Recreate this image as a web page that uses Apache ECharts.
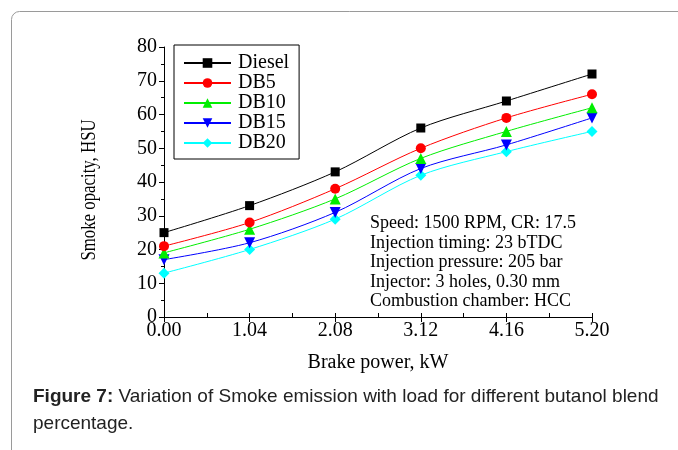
<!DOCTYPE html>
<html><head><meta charset="utf-8">
<script src="https://cdn.jsdelivr.net/npm/echarts@6/dist/echarts.min.js"></script>
<style>html,body{margin:0;padding:0;background:#fff}#c{width:678px;height:450px}</style>
</head><body><div id="c"></div>
<script>
var xValues = [0.00, 1.04, 2.08, 3.12, 4.16, 5.20];
var seriesNames = ['Diesel', 'DB5', 'DB10', 'DB15', 'DB20'];
var diesel = [25, 33, 43, 56, 64, 72];
var db5 = [21, 28, 38, 50, 59, 66];
var db10 = [19, 26, 35, 47, 55, 62];
var db15 = [17, 22, 31, 44, 51, 59];
var db20 = [13, 20, 29, 42, 49, 55];
var notes = ['Speed: 1500 RPM, CR: 17.5', 'Injection timing: 23 bTDC', 'Injection pressure: 205 bar', 'Injector: 3 holes, 0.30 mm', 'Combustion chamber: HCC'];
var yAxisTitle = 'Smoke opacity, HSU';

var serif = 'Liberation Serif, Times New Roman, serif';
var colors = ['#000000', '#ff0000', '#00ee00', '#0000ff', '#00ffff'];
var symbols = ['rect', 'circle', 'triangle', 'triangle', 'diamond'];
var rots = [0, 0, 0, 180, 0];
var sizes = [9, 10, 11, 11, 11];
var allData = [diesel, db5, db10, db15, db20];

function pairs(arr) { return arr.map(function (v, i) { return [xValues[i], v]; }); }

var series = seriesNames.map(function (n, k) {
  return {
    name: n, type: 'line', xAxisIndex: 0, yAxisIndex: 0,
    data: pairs(allData[k]), smooth: 0.3,
    symbol: symbols[k], symbolRotate: rots[k], symbolSize: sizes[k], showSymbol: true,
    lineStyle: { color: colors[k], width: 1 },
    itemStyle: { color: colors[k] },
    emphasis: { disabled: true }, animation: false, z: 10 - k
  };
});

var chart = echarts.init(document.getElementById('c'));
chart.setOption({
  animation: false,
  grid: { left: 164, right: 86, top: 47, bottom: 133, containLabel: false },
  legend: {
    orient: 'vertical', left: 174, top: 45, data: seriesNames,
    borderColor: '#000', borderWidth: 1, padding: [8, 10, 6, 9],
    itemWidth: 47, itemHeight: 12, itemGap: 0,
    textStyle: { fontFamily: serif, fontSize: 20, color: '#000', padding: [0, 0, 0, 2] }
  },
  xAxis: [{
    type: 'value', min: 0, max: 5.2, interval: 1.04,
    name: 'Brake power, kW', nameLocation: 'middle', nameGap: 36,
    nameTextStyle: { fontFamily: serif, fontSize: 20, color: '#000' },
    axisLine: { show: true, onZero: false, lineStyle: { color: '#000', width: 1 } },
    axisTick: { show: true, inside: false, length: 5, lineStyle: { color: '#000' } },
    axisLabel: { fontFamily: serif, fontSize: 20, color: '#000', margin: 4,
      formatter: function (v) { return v.toFixed(2); } },
    splitLine: { show: false }
  }, {
    type: 'value', min: 0, max: 5.2, interval: 0.52, position: 'bottom',
    axisLine: { show: false }, axisLabel: { show: false }, splitLine: { show: false },
    axisTick: { show: true, inside: true, length: 4, lineStyle: { color: '#000' } }
  }],
  yAxis: [{
    type: 'value', min: 0, max: 80, interval: 10,
    axisLine: { show: true, lineStyle: { color: '#000', width: 1 } },
    axisTick: { show: true, inside: false, length: 5, lineStyle: { color: '#000' } },
    minorTick: { show: true, splitNumber: 2, length: 3, lineStyle: { color: '#000' } },
    axisLabel: { fontFamily: serif, fontSize: 20, color: '#000', margin: 7 },
    splitLine: { show: false }
  }],
  series: series,
  graphic: [
    { type: 'rect', left: 9, top: 9, shape: { width: 800, height: 600, r: 8 },
      style: { fill: 'none', stroke: '#9a9a9a', lineWidth: 1 }, z: -10, silent: true },
    { type: 'text', x: 90, y: 190, rotation: Math.PI / 2, scaleX: 0.84,
      style: { text: yAxisTitle, font: '20px ' + serif, fill: '#000', align: 'center', verticalAlign: 'middle' } },
    { type: 'text', left: 370, top: 214,
      style: { text: notes.join('\n'), font: '18px ' + serif, fill: '#000', lineHeight: 19.5 } },
    { type: 'text', left: 33, top: 387,
      style: { rich: { b: { fontFamily: 'Liberation Sans, Arial, sans-serif', fontWeight: 'bold', fontSize: 19, fill: '#222', lineHeight: 27 },
                        n: { fontFamily: 'Liberation Sans, Arial, sans-serif', fontSize: 19, fill: '#222', lineHeight: 27 } },
               text: '{b|Figure 7:}{n| Variation of Smoke emission with load for different butanol blend}\n{n|percentage.}' } }
  ]
});
</script></body></html>
